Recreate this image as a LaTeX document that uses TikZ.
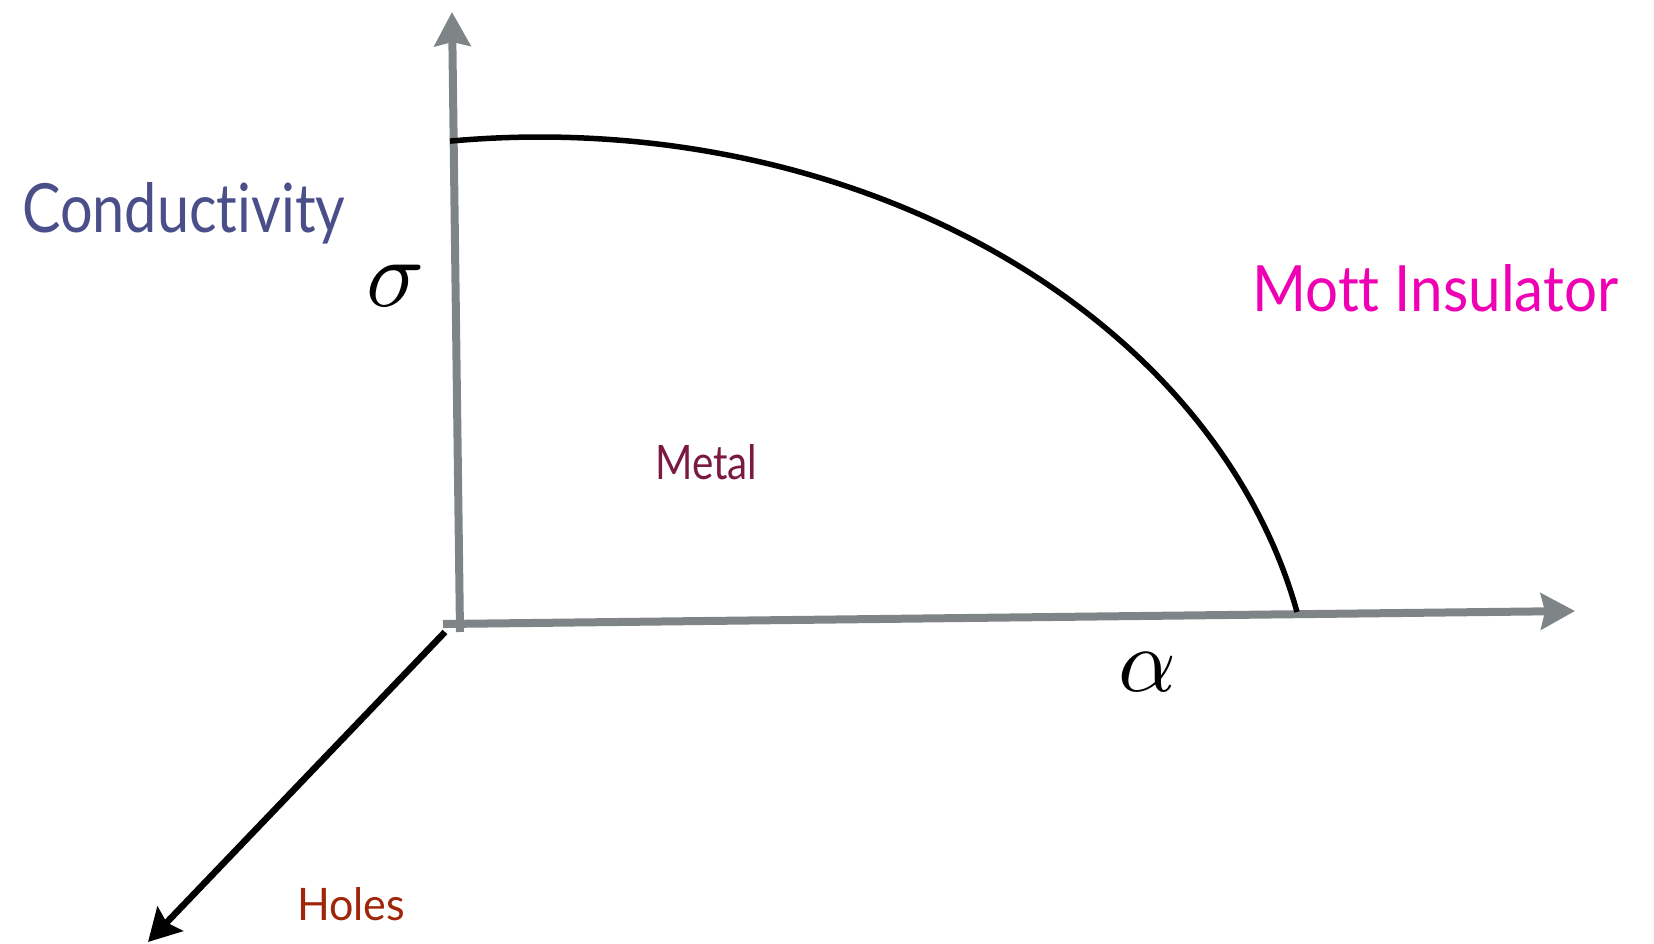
\documentclass[tikz,border=0pt]{standalone}
\usepackage{fontspec}
\setmainfont{Lato}[Ligatures=NoCommon]
\usepackage{graphicx}
\usetikzlibrary{arrows.meta}
\definecolor{axisgray}{HTML}{7F8586}
\definecolor{condcol}{HTML}{4A4F8A}
\definecolor{mottcol}{HTML}{F000B4}
\definecolor{metalcol}{HTML}{7B1A40}
\definecolor{holecol}{HTML}{A0260A}
\begin{document}
\begin{tikzpicture}[x=1pt,y=-1pt,
  axis/.style={draw=axisgray, line width=8pt, -{Stealth[length=34pt,width=36pt,inset=4pt,fill=axisgray]}},
  holesaxis/.style={draw=black, line width=6.5pt, -{Stealth[length=32pt,width=35pt,inset=5pt]}},
  boundary/.style={draw=black, line width=5.5pt},
  lbl/.style={inner sep=0pt, anchor=base west}]
\useasboundingbox (0,0) rectangle (1654,943);
\coordinate (yb) at (460,632);
\coordinate (yt) at (452,12);
\coordinate (xb) at (443,624);
\coordinate (xt) at (1575,611);
\coordinate (hb) at (445,632);
\coordinate (ht) at (148,942);
\draw[axis] (yb) -- (yt);
\draw[axis] (xb) -- (xt);
\draw[holesaxis] (hb) -- (ht);
\draw[boundary] plot[domain=96.67:12.26, samples=90, smooth] ({540+774.7*cos(\x)}, {740-603*sin(\x)});
\node[lbl, text=condcol] (cond) at (22,232) {\fontsize{68}{80}\selectfont\resizebox{323pt}{50pt}{Conductivity}};
\node[lbl, text=mottcol] (mott) at (1252,311) {\fontsize{64}{76}\selectfont\resizebox{366pt}{47pt}{Mott Insulator}};
\node[lbl, text=metalcol] (metal) at (655,479) {\fontsize{48}{58}\selectfont\resizebox{102pt}{35pt}{Metal}};
\node[lbl, text=holecol] (holes) at (297,920) {\fontsize{46}{56}\selectfont\resizebox{108pt}{33pt}{Holes}};
\node[inner sep=0pt] (sigma) at (396,286) {\scalebox{9.6}{$\sigma$}};
\node[inner sep=0pt] (alpha) at (1147,672) {\scalebox{9}{$\alpha$}};
\end{tikzpicture}
\end{document}
